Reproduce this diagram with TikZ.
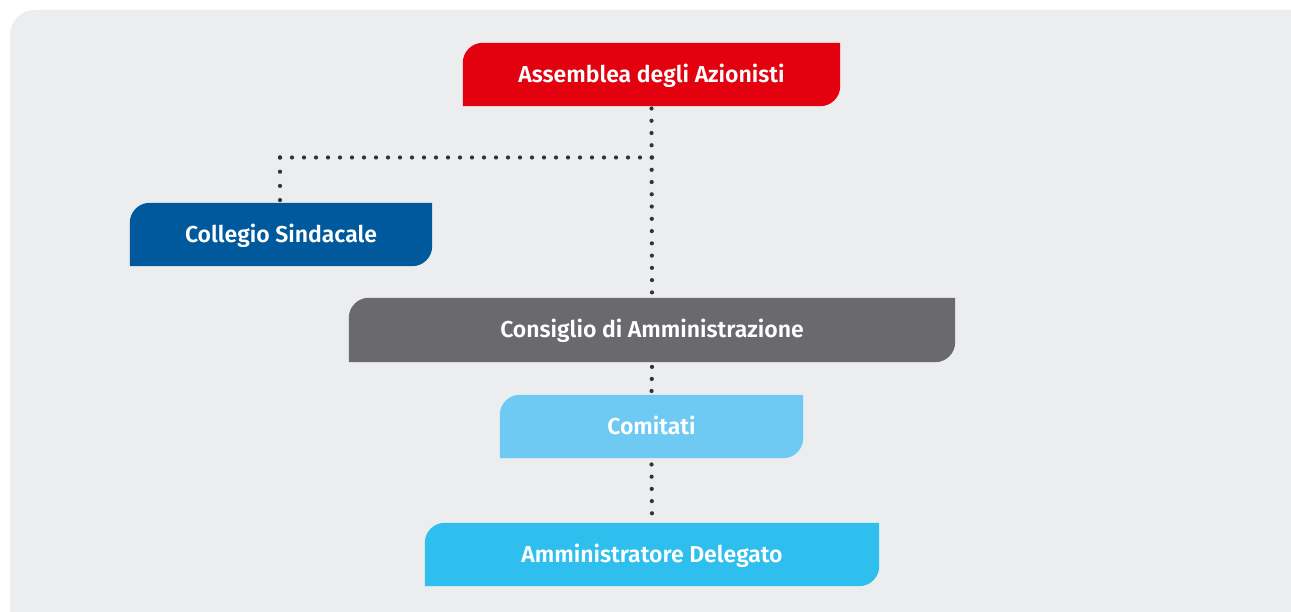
\documentclass[tikz,border=0pt]{standalone}
\usepackage{fontspec}
\setmainfont{Fira Sans}[BoldFont={Fira Sans SemiBold}]
\usetikzlibrary{backgrounds}
\definecolor{bgc}{HTML}{ECEDEF}
\definecolor{cred}{HTML}{E3000F}
\definecolor{cdblue}{HTML}{00599D}
\definecolor{cgray}{HTML}{6A696E}
\definecolor{clblue}{HTML}{6ECAF2}
\definecolor{ccyan}{HTML}{2FBFEF}
\definecolor{cdot}{HTML}{333333}
\newcommand\tabbox[2]{\fill[#2] ([yshift=-20pt]#1.north west) arc[start angle=180,end angle=90,radius=20pt] -- (#1.north east) -- ([yshift=20pt]#1.south east) arc[start angle=0,end angle=-90,radius=20pt] -- (#1.south west) -- cycle;}
\tikzset{
  orgbox/.style={inner sep=0pt, minimum height=63pt, text height=15.8pt, text depth=0pt, text=white, font=\fontsize{23}{26}\selectfont\bfseries},
  dotline/.style={draw=cdot, line width=4.2pt, line cap=round, dash pattern=on 0pt off #1},
}
\begin{document}
\begin{tikzpicture}[x=1pt,y=1pt]
\useasboundingbox (0,0) rectangle (1291,612);
\clip (0,0) rectangle (1291,612);
\node[orgbox, minimum width=377pt] (ass) at (651.5,537.5) {Assemblea degli Azionisti};
\node[orgbox, minimum width=302pt] (col) at (281,377.5) {Collegio Sindacale};
\node[orgbox, minimum width=606pt, minimum height=64pt] (cda) at (652,282) {Consiglio di Amministrazione};
\node[orgbox, minimum width=303pt] (com) at (651.5,185.5) {Comitati};
\node[orgbox, minimum width=454pt] (amm) at (652,57.5) {Amministratore Delegato};
\begin{scope}[on background layer]
\fill[bgc] (10,-30) -- (10,577) arc[start angle=180,end angle=90,radius=25] -- (1330,602) -- (1330,-30) -- cycle;
\tabbox{ass}{cred}
\tabbox{col}{cdblue}
\tabbox{cda}{cgray}
\tabbox{com}{clblue}
\tabbox{amm}{ccyan}
\end{scope}
\coordinate (j) at (652,454.5);
\coordinate (jl) at (280,454.5);
\draw[dotline=12.26pt] ([yshift=-2.3pt]ass.south) -- ([yshift=0.5pt]cda.north);
\draw[dotline=12pt] (j) -- ([xshift=-5pt]jl);
\draw[dotline=14.2pt] (jl) -- ([xshift=-1pt,yshift=-2pt]col.north);
\draw[dotline=12.05pt] ([yshift=-4.7pt]cda.south) -- ([yshift=-0.5pt]com.north);
\draw[dotline=12.2pt] ([yshift=-6.3pt]com.south) -- ([yshift=4pt]amm.north);
\end{tikzpicture}
\end{document}
